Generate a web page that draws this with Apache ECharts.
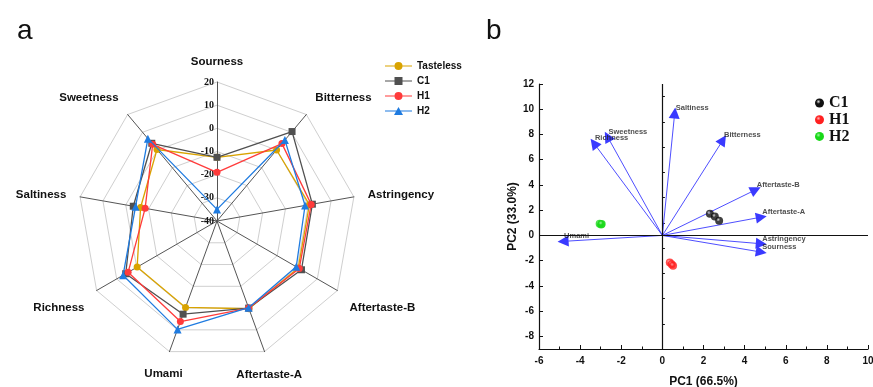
<!DOCTYPE html>
<html>
<head>
<meta charset="utf-8">
<script src="https://cdn.jsdelivr.net/npm/echarts@6/dist/echarts.min.js"></script>
<style>
html,body{margin:0;padding:0;background:#fff;}
#chart{width:873px;height:387px;}
</style>
</head>
<body>
<div id="chart"></div>
<script>
// ---------- Panel a: radar (indicators listed counter-clockwise from top) ----------
const radarIndicators = ['Sourness','Sweetness','Saltiness','Richness','Umami','Aftertaste-A','Aftertaste-B','Astringency','Bitterness'];
const radarSeriesNames = ['Tasteless','C1','H1','H2'];
const tastelessValues = [-12.5, 0.3, -6.5, -0.2, -0.3, 0.3, 0.5, 0.5, 0.0];
const c1Values        = [-12.5, 3.8, -3.3, 5.5, 2.8, 0.0, 2.1, 1.8, 10.4];
const h1Values        = [-19.0, 3.2, -8.5, 4.3, 6.2, 0.0, 1.0, 1.3, 3.6];
const h2Values        = [-35.0, 6.4, -4.3, 6.8, 9.8, -0.2, -0.5, -1.4, 5.6];
const radarMin = -40, radarMax = 20, radarStep = 10;

// ---------- Panel b: PCA biplot ----------
const loadingNames = ['Saltiness','Bitterness','Sweetness','Richness','Aftertaste-B','Aftertaste-A','Astringency','Sourness','Umami'];
const loadingX = [0.6, 2.95, -2.67, -3.33, 4.54, 4.81, 4.81, 4.81, -4.83];
const loadingY = [9.7, 7.57, 7.83, 7.31, 3.62, 1.45, -0.66, -1.32, -0.47];
const groupNames = ['C1','H1','H2'];
const c1X = [2.31, 2.55, 2.76];  const c1Y = [1.71, 1.50, 1.16];
const h1X = [0.36, 0.45, 0.52];  const h1Y = [-2.15, -2.28, -2.40];
const h2X = [-3.05, -2.98, -2.95]; const h2Y = [0.92, 0.86, 0.90];
const yTicks = [-8,-6,-4,-2,0,2,4,6,8,10,12];
const yMinorTicks = [-9,-7,-5,-3,-1,1,3,5,7,9,11];
const pc1Name = 'PC1 (66.5%)', pc2Name = 'PC2 (33.0%)';

// ---------- styles ----------
const radarColors = ['#D9A300','#505050','#FF3B3B','#1F7BE0'];
const radarSymbols = ['circle','rect','circle','triangle'];
const legendIcons = [
  'path://M0,3.5h27v1h-27z M13.5,0a4,4 0 1,1 0,8a4,4 0 1,1 0,-8z',
  'path://M0,3.5h27v1h-27z M9.5,0h8v8h-8z',
  'path://M0,3.5h27v1h-27z M13.5,0a4,4 0 1,1 0,8a4,4 0 1,1 0,-8z',
  'path://M0,3.5h27v1h-27z M13.5,0L18,8L9,8z'
];
function ball(base, light){
  return {type:'radial', x:0.38, y:0.35, r:0.7, colorStops:[
    {offset:0, color:light},{offset:0.35, color:base},{offset:1, color:base}]};
}
const groupColors = [ball('#111','#ddd'), ball('#ff2020','#ffb0b0'), ball('#18d818','#a0f7a0')];
const sans = 'Liberation Sans, Arial, sans-serif';
const serif = 'Liberation Serif, Times New Roman, serif';

// per-indicator name nudges (text styling only)
const nameStyleKey = {'Sweetness':'up','Bitterness':'up','Richness':'down','Aftertaste-B':'down','Umami':'um','Aftertaste-A':'aa'};
const nameBase = {color:'#111', fontSize:11.5, fontWeight:'bold', fontFamily:sans};
const nameRich = {
  n: {...nameBase},
  up: {...nameBase, padding:[0,0,12,0]},
  down: {...nameBase, padding:[20,0,0,0]},
  um: {...nameBase, padding:[18,-18,0,0]},
  aa: {...nameBase, padding:[20,0,0,-33]}
};

const radarData = [tastelessValues, c1Values, h1Values, h2Values];
const radarSeries = radarSeriesNames.map((n,i)=>({
  type:'radar', name:n, radarIndex:0, z: 3+i,
  symbol: radarSymbols[i], symbolSize: radarSymbols[i]==='triangle'?8:7,
  lineStyle:{width:1.3, color:radarColors[i]},
  itemStyle:{color:radarColors[i]},
  data:[{value:radarData[i], name:n}]
}));

const tips = loadingX.map((x,i)=>({value:[x, loadingY[i]], name:loadingNames[i]}));
const arrowLines = loadingX.map((x,i)=>({coords:[[0,0],[x, loadingY[i]]]}));
const pts = (xs,ys)=>xs.map((x,i)=>[x, ys[i]]);
const groupPts = [pts(c1X,c1Y), pts(h1X,h1Y), pts(h2X,h2Y)];

const option = {
  animation:false,
  backgroundColor:'#fff',
  title:[
    {text:'a', left:12, top:12, textStyle:{fontSize:28, fontWeight:'normal', fontFamily:sans, color:'#111'}},
    {text:'b', left:481, top:12, textStyle:{fontSize:28, fontWeight:'normal', fontFamily:sans, color:'#111'}}
  ],
  legend:[
    {data: radarSeriesNames.map((n,i)=>({name:n, icon:legendIcons[i], itemStyle:{color:radarColors[i]}})),
     orient:'vertical', left:385, top:60, padding:0, itemWidth:27, itemHeight:8, itemGap:3, itemTextGap:3,
     textStyle:{fontSize:10, fontWeight:'bold', fontFamily:sans, color:'#111', lineHeight:12}},
    {data: groupNames.map((n,i)=>({name:n, icon:'circle', itemStyle:{color:groupColors[i]}})),
     orient:'vertical', left:815, top:95, padding:0, itemWidth:9, itemHeight:9, itemGap:0.7, itemTextGap:5,
     textStyle:{fontSize:16, fontWeight:'bold', fontFamily:serif, color:'#111', lineHeight:16}}
  ],
  radar:{
    center:[217,221], radius:139, startAngle:90, splitNumber:6, shape:'polygon',
    indicator: radarIndicators.map(n=>({name:n, min:radarMin, max:radarMax})),
    axisName:{...nameBase, rich:nameRich,
      formatter:(name)=>'{'+(nameStyleKey[name]||'n')+'|'+name+'}'},
    nameGap:14,
    axisLine:{lineStyle:{color:'#555', width:1}},
    splitLine:{lineStyle:{color:'#cfcfcf', width:1}},
    splitArea:{show:false},
    axisTick:{show:false}, axisLabel:{show:false}
  },
  grid:[
    {left:539, right:5, top:84, bottom:38, outerBoundsMode:'none', containLabel:false},
    {left:217, top:82, width:1, height:139, outerBoundsMode:'none', containLabel:false}
  ],
  xAxis:[
    {type:'value', gridIndex:0, min:-6, max:10, interval:2,
     name:pc1Name, nameLocation:'middle', nameGap:27,
     nameTextStyle:{fontSize:12, fontWeight:'bold', fontFamily:sans, color:'#111'},
     axisLine:{onZero:false, lineStyle:{color:'#111', width:1.2}},
     axisTick:{inside:true, length:4, lineStyle:{color:'#111'}},
     minorTick:{show:true, splitNumber:2, length:2.5, lineStyle:{color:'#111'}},
     axisLabel:{fontSize:10, fontWeight:'bold', fontFamily:sans, color:'#111', margin:7, showMaxLabel:true, showMinLabel:true},
     splitLine:{show:false}},
    {type:'value', gridIndex:1, show:false, min:0, max:1}
  ],
  yAxis:[
    {type:'value', gridIndex:0, min:-9, max:12, position:'left',
     name:pc2Name, nameLocation:'middle', nameGap:18,
     nameTextStyle:{fontSize:12, fontWeight:'bold', fontFamily:sans, color:'#111'},
     axisLine:{onZero:false, lineStyle:{color:'#111', width:1.2}},
     axisTick:{inside:true, length:4, customValues:yTicks, lineStyle:{color:'#111'}},
     axisLabel:{customValues:yTicks, fontSize:10, fontWeight:'bold', fontFamily:sans, color:'#111', margin:5},
     splitLine:{show:false}},
    {type:'value', gridIndex:0, min:-9, max:12, position:'left',
     axisLine:{show:false}, axisLabel:{show:false}, splitLine:{show:false},
     axisTick:{show:true, inside:true, length:2.5, customValues:yMinorTicks, lineStyle:{color:'#111'}}},
    {type:'value', gridIndex:1, min:radarMin, max:radarMax, interval:radarStep,
     axisLine:{show:false}, axisTick:{show:false}, splitLine:{show:false},
     axisLabel:{fontSize:10, fontWeight:'bold', fontFamily:serif, color:'#111', margin:3}}
  ],
  series:[
    ...radarSeries,
    {type:'lines', coordinateSystem:'cartesian2d', xAxisIndex:0, yAxisIndex:0, silent:true,
     symbol:['none','triangle'], symbolSize:[7,11],
     lineStyle:{color:'#3a3aff', width:0.9, opacity:1},
     itemStyle:{color:'#1010ee'},
     data:arrowLines, z:3,
     markLine:{silent:true, symbol:['none','none'], label:{show:false},
       lineStyle:{color:'#111', width:1.2, type:'solid'},
       data:[{xAxis:0},{yAxis:0}]}},
    {type:'scatter', xAxisIndex:0, yAxisIndex:0, symbolSize:0, silent:true, data:tips, z:4,
     label:{show:true, formatter:'{b}', position:'right', distance:1, offset:[0,-5],
       fontSize:7.5, fontWeight:'bold', fontFamily:sans, color:'#222'}},
    ...groupNames.map((n,i)=>({type:'scatter', name:n, xAxisIndex:0, yAxisIndex:0, symbolSize:8,
      data:groupPts[i], z:5, itemStyle:{color:groupColors[i]}}))
  ]
};
const chart = echarts.init(document.getElementById('chart'), null, {renderer:'canvas'});
chart.setOption(option);
</script>
</body>
</html>
